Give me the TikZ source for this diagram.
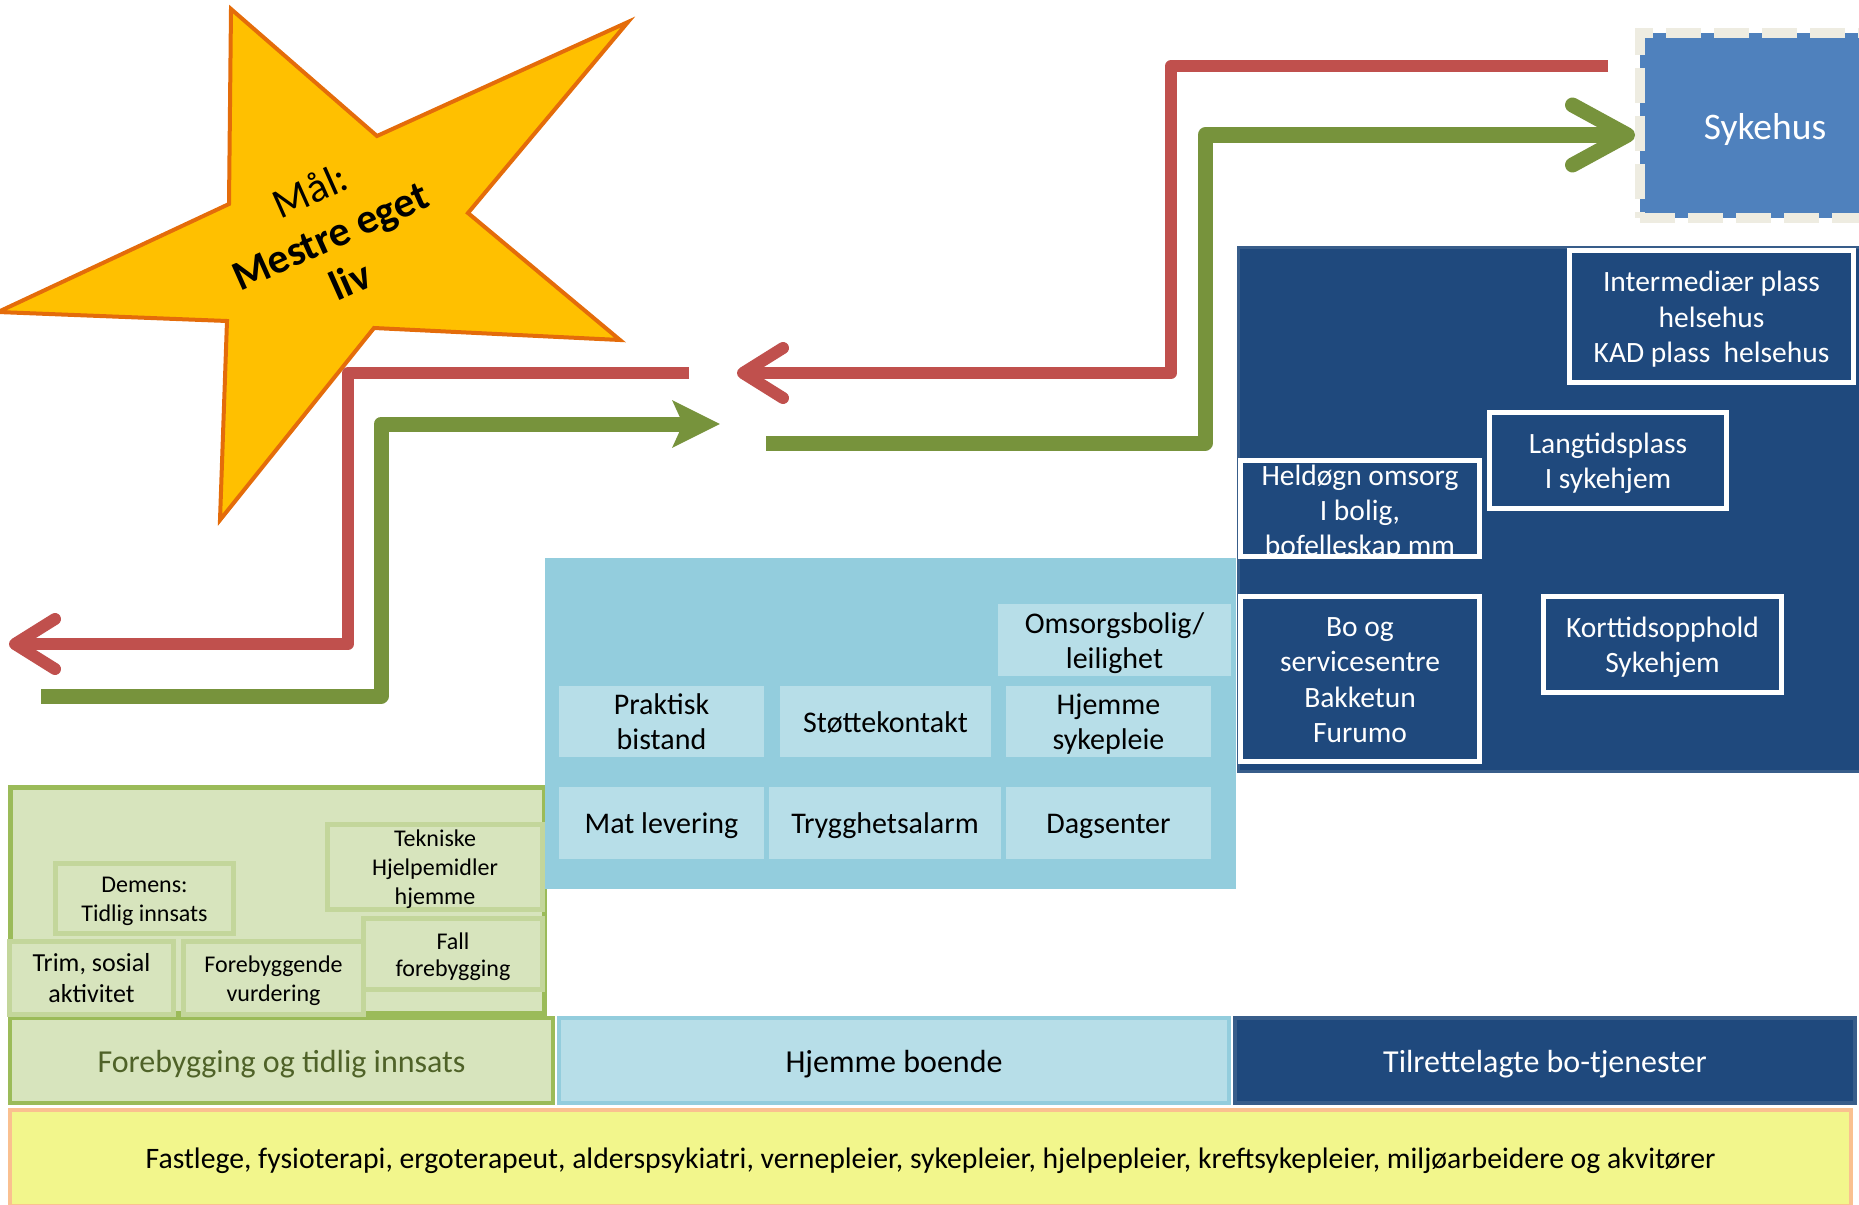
\documentclass[tikz,border=0pt]{standalone}
\usepackage{fontspec}
\setmainfont{Carlito}
\usetikzlibrary{arrows.meta}
\definecolor{dblue}{HTML}{1F497D}
\definecolor{dedge}{HTML}{385D8A}
\definecolor{sykblue}{HTML}{4F81BD}
\definecolor{dashc}{HTML}{EEECE1}
\definecolor{lblueedge}{HTML}{93CDDD}
\definecolor{lblue}{HTML}{B7DEE8}
\definecolor{gfill}{HTML}{D7E4BD}
\definecolor{gedge}{HTML}{9BBB59}
\definecolor{gedge2}{HTML}{C3D69B}
\definecolor{gtext}{HTML}{4F6228}
\definecolor{redc}{HTML}{C0504D}
\definecolor{greenc}{HTML}{77933C}
\definecolor{starfill}{HTML}{FFC000}
\definecolor{staredge}{HTML}{E46C0A}
\definecolor{yell}{HTML}{F2F68C}
\definecolor{peach}{HTML}{FAC090}
\newcommand\myfs[2]{\fontsize{#1}{#2}\selectfont}
\begin{document}
\begin{tikzpicture}[x=1pt,y=-1pt,
  dbox/.style={draw=white,line width=5pt,fill=dblue,text=white,font=\myfs{29.5}{35.3},align=center,inner sep=0pt,text depth=6.5pt},
  lbox/.style={fill=lblue,font=\myfs{30}{35},align=center,inner sep=0pt,text depth=6.6pt},
  gbox/.style={draw=gedge2,line width=5pt,fill=gfill,font=\myfs{24}{29},align=center,inner sep=0pt,text depth=5.3pt},
  band/.style={line width=4pt,font=\myfs{32}{38},align=center,inner sep=0pt,text height=30.1pt,text depth=7pt},
  redarrow/.style={draw=redc,line width=12pt,line join=round},
  greenarrow/.style={draw=greenc,line width=15pt,line join=round},
]
\useasboundingbox (0,0) rectangle (1859,1204);
\clip (0,0) rectangle (1859,1204);

% base band
\node[band, draw=peach, fill=yell, font=\myfs{29.7}{35}, text height=27.9pt, text depth=6.5pt, minimum width=1841, minimum height=96] (base) at (930.5,1158)
  {Fastlege, fysioterapi, ergoterapeut, alderspsykiatri, vernepleier, sykepleier, hjelpepleier, kreftsykepleier, miljøarbeidere og akvitører};

% green block
\node[draw=gedge, line width=5pt, fill=gfill, minimum width=534, minimum height=226, inner sep=0pt] (gblock) at (277.5,900.5) {};
\node[band, draw=gedge, fill=gfill, text=gtext, minimum width=543, minimum height=85] (fband) at (281.5,1060.5) {Forebygging og tidlig innsats};
\node[band, draw=lblueedge, fill=lblue, minimum width=670, minimum height=85] (hband) at (894,1060.5) {Hjemme boende};
\node[band, draw=dedge, fill=dblue, text=white, minimum width=620, minimum height=85] (tband) at (1545,1060.5) {Tilrettelagte bo-tjenester};

\node[gbox, text height=80.6pt, minimum width=215, minimum height=85] (tek) at (435,867) {Tekniske\\Hjelpemidler\\hjemme};
\node[gbox, text height=51.6pt, minimum width=178, minimum height=70] (dem) at (144.5,898.5) {Demens:\\Tidlig innsats};
\node[gbox, font=\myfs{26}{31}, text height=55.4pt, text depth=5.7pt, minimum width=164, minimum height=73] (trim) at (91.5,978) {Trim, sosial\\aktivitet};
\node[gbox, text height=51.6pt, minimum width=180, minimum height=73] (fore) at (273.5,978) {Forebyggende\\vurdering};
\node[gbox, font=\myfs{24}{27}, text height=49.6pt, minimum width=179, minimum height=71] (fall) at (453,954) {Fall\\forebygging};

% light blue block
\node[fill=lblueedge, minimum width=691, minimum height=331, inner sep=0pt] (lblock) at (890.5,723.5) {};
\node[lbox, text height=63.2pt, minimum width=233, minimum height=72] (omsorg) at (1114.5,640) {Omsorgsbolig/\\leilighet};
\node[lbox, text height=63.2pt, minimum width=205, minimum height=71] (prak) at (661.5,721.5) {Praktisk\\bistand};
\node[lbox, text height=28.2pt, minimum width=211, minimum height=71] (stot) at (885.5,721.5) {Støttekontakt};
\node[lbox, text height=63.2pt, minimum width=205, minimum height=71] (hjsyk) at (1108.5,721.5) {Hjemme\\sykepleie};
\node[lbox, text height=28.2pt, minimum width=205, minimum height=72] (mat) at (661.5,823) {Mat levering};
\node[lbox, text height=28.2pt, minimum width=232, minimum height=72] (tryg) at (885,823) {Trygghetsalarm};
\node[lbox, text height=28.2pt, minimum width=205, minimum height=72] (dag) at (1108.5,823) {Dagsenter};

% dark block
\node[fill=dblue, draw=dedge, line width=3pt, minimum width=625, minimum height=524, inner sep=0pt] (dblock) at (1551,509.5) {};
\node[dbox, text height=98.3pt, minimum width=284, minimum height=132] (inter) at (1711.5,316.5) {Intermediær plass\\helsehus\\KAD plass\ \ helsehus};
\node[dbox, text height=63pt, minimum width=237, minimum height=96] (lang) at (1608,460.5) {Langtidsplass\\I sykehjem};
\node[fill=dblue, minimum width=239, minimum height=96, inner sep=0pt] (held) at (1360,508.5) {};
\begin{scope}
\clip (held.north west) rectangle (held.south east);
\node[text=white, font=\myfs{29.5}{35}, align=center, inner sep=0pt] (heldtxt) at (1360,513) {Heldøgn omsorg\\I bolig,\\bofelleskap mm};
\end{scope}
\draw[white, line width=5pt] (held.north west) rectangle (held.south east);
\node[dbox, text height=133.6pt, minimum width=239, minimum height=165] (boog) at (1360,679) {Bo og\\servicesentre\\Bakketun\\Furumo};
\node[dbox, text height=63pt, minimum width=238, minimum height=96] (kort) at (1662.5,644.5) {Korttidsopphold\\Sykehjem};

% Sykehus
\node[fill=sykblue, draw=dashc, line width=10pt, dash pattern=on 35pt off 13pt, minimum width=250, minimum height=185, inner sep=0pt, text=white, font=\myfs{37.5}{45}, text height=37pt, text depth=8.2pt] (syk) at (1765,125.5) {Sykehus};

% star
\draw[fill=starfill, draw=staredge, line width=4pt, line join=miter]
  (231,9) -- (377,136) -- (628,22) -- (468,213) -- (620,340) -- (374,328)
  -- (220,520) -- (227,321) -- (-2,312) -- (229,204) -- cycle;
\node[rotate=24, align=center, font=\myfs{42}{49}, inner sep=0pt] (goal) at (330,235)
  {Mål:\\\textbf{Mestre eget}\\\textbf{liv}};

% connector points
\coordinate (r1s) at (1608,66);
\coordinate (r1a) at (1171,66);
\coordinate (r1b) at (1171,373);
\coordinate (r1e) at (737,373);
\coordinate (r2s) at (689,373);
\coordinate (r2a) at (348,373);
\coordinate (r2b) at (348,644);
\coordinate (r2e) at (9,644);
\coordinate (g1s) at (41,696);
\coordinate (g1a) at (381,696);
\coordinate (g1b) at (381,424);
\coordinate (g1e) at (720,424);
\coordinate (g2s) at (766,443);
\coordinate (g2a) at (1205,443);
\coordinate (g2b) at (1205,135);

\draw[redarrow, -{Straight Barb[round,length=40pt,width=50pt]}] (r1s) -- (r1a) -- (r1b) -- (r1e);
\draw[redarrow, -{Straight Barb[round,length=40pt,width=50pt]}] (r2s) -- (r2a) -- (r2b) -- (r2e);
\draw[greenarrow, -{Stealth[length=47pt,width=46pt,inset=10pt]}] (g1s) -- (g1a) -- (g1b) -- (g1e);
\draw[greenarrow, -{Straight Barb[round,length=55pt,width=60pt]}] (g2s) -- (g2a) -- (g2b) -- (g2b -| syk.west);
\end{tikzpicture}
\end{document}
